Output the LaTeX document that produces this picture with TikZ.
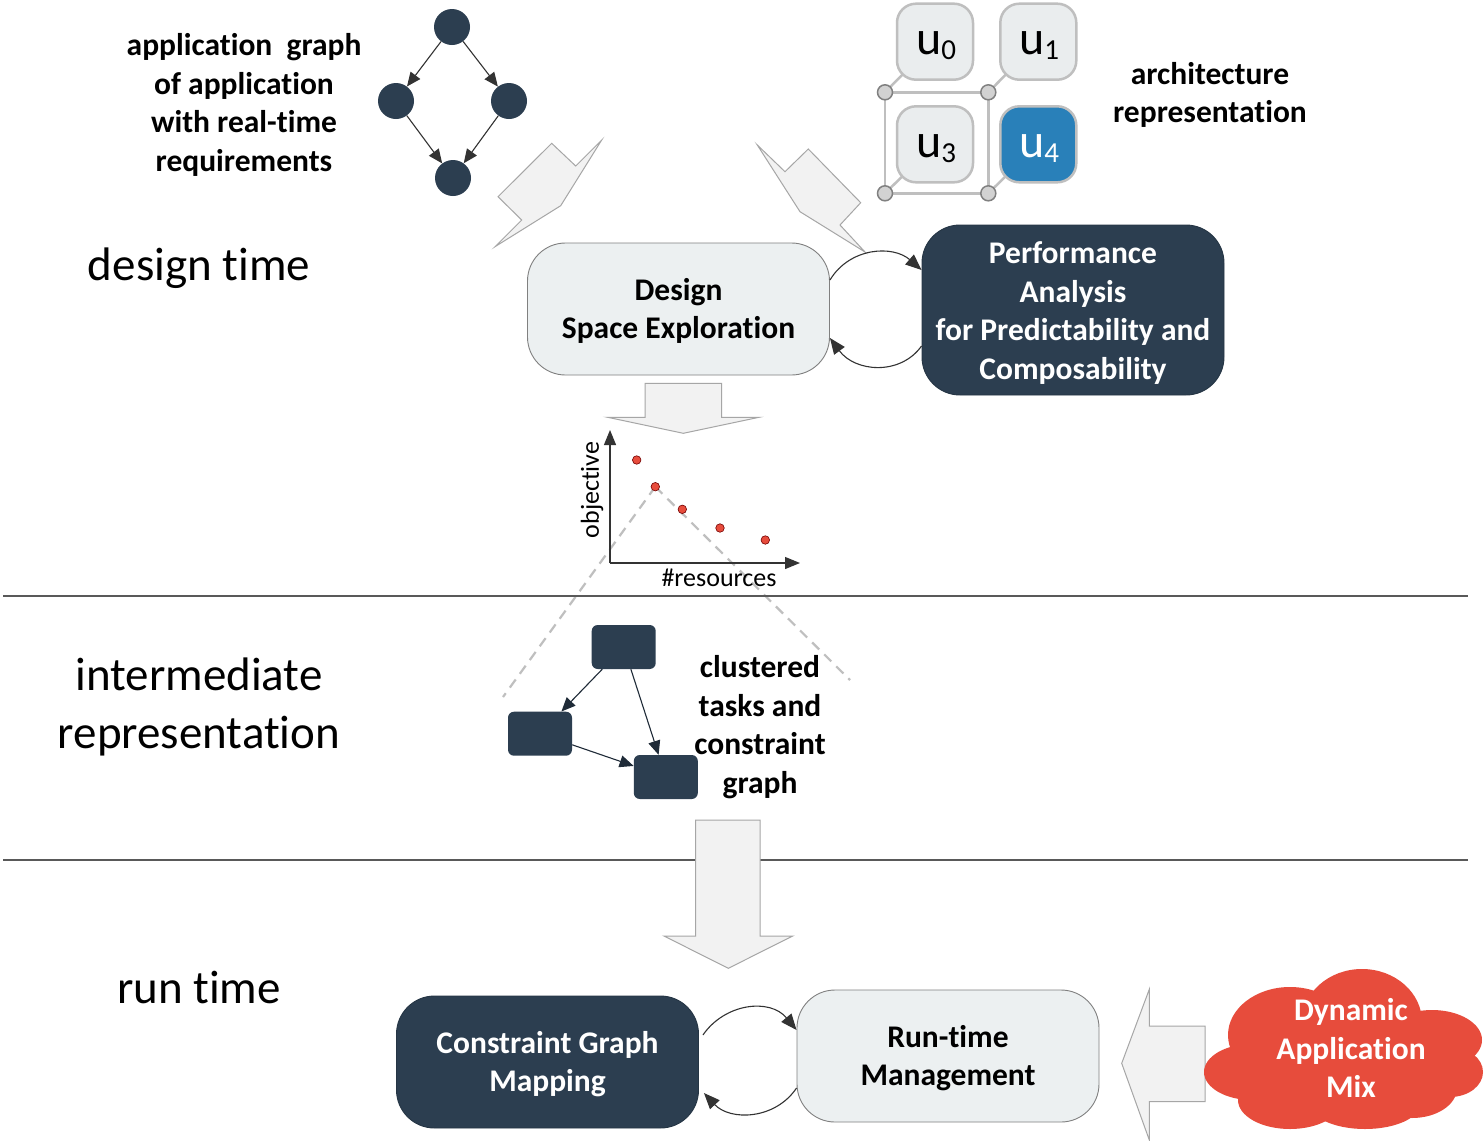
\documentclass[tikz,border=0pt]{standalone}
\usepackage{fontspec}
\setmainfont{Carlito}[Ligatures=NoCommon]
\usetikzlibrary{arrows.meta,calc,backgrounds}

\definecolor{navy}{HTML}{2C3E50}
\definecolor{pale}{HTML}{ECF0F1}
\definecolor{archfill}{HTML}{EAEDEE}
\definecolor{blockfill}{HTML}{F2F2F2}
\definecolor{blockline}{HTML}{A6A6A6}
\definecolor{ublue}{HTML}{2980B9}
\definecolor{dotred}{HTML}{E74C3C}
\definecolor{rulegray}{HTML}{595959}
\definecolor{archline}{HTML}{BFBFBF}
\definecolor{edgegray}{HTML}{333333}

\begin{document}
\begin{tikzpicture}[x=1pt,y=-1pt,
  lbl/.style={font=\bfseries\fontsize{31.5}{38.5}\selectfont, align=center, inner sep=0},
  phase/.style={font=\fontsize{47}{57.5}\selectfont, align=center, inner sep=0},
  axislbl/.style={font=\fontsize{26}{30}\selectfont, inner sep=0},
  lightbox/.style={draw=gray, line width=0.9, fill=pale, rounded corners=38,
    minimum width=302, minimum height=132, inner sep=0},
  darkbox/.style={draw=navy!85!black, line width=0.9, fill=navy, text=white, rounded corners=38,
    minimum width=302, minimum height=132, inner sep=0},
  task/.style={circle, fill=navy, minimum size=36, inner sep=0},
  taskedge/.style={draw=edgegray, line width=1.1, -{Triangle[length=14,width=12]}},
  cluster/.style={fill=navy, rounded corners=6, minimum width=64, minimum height=44, inner sep=0},
  clusteredge/.style={draw=navy!70!black, line width=1.1, -{Triangle[length=14,width=12]}},
  unit/.style={draw=archline, line width=2.5, fill=archfill, rounded corners=19,
    minimum width=76, minimum height=76, inner sep=0},
  router/.style={circle, draw=gray, line width=1.5, fill=gray!35, minimum size=15, inner sep=0},
  archlink/.style={draw=archline, line width=2.5},
  blockarrow/.style={draw=blockline, line width=1, fill=blockfill},
  loopedge/.style={draw=edgegray, line width=1.1, -{Triangle[length=16,width=13]}},
  pareto/.style={circle, draw=red!45!black, line width=0.6, fill=dotred, minimum size=8.5, inner sep=0},
  axis/.style={draw=edgegray, line width=1.2, -{Triangle[length=15,width=12]}},
  zoomline/.style={draw=archline, line width=2.2, dash pattern=on 10pt off 7pt},
  phaserule/.style={draw=rulegray, line width=1.2},
  ulbl/.style={inner sep=0}
]
\useasboundingbox (0,0) rectangle (1484,1141);
\begin{scope}[on background layer]
  \fill[white] (0,0) rectangle (1484,1141);
\end{scope}

% phase separators
\draw[phaserule] (3,596) -- (1468,596);
\draw[phaserule] (3,860) -- (1468,860);

% phase names
\node[phase] (tdesign) at (199,268) {design time};
\node[phase] (tinter) at (199,707) {intermediate\\representation};
\node[phase] (trun) at (199,987) {run time};

% application graph
\node[lbl] (tapp) at (244,105) {application~ graph\\of application\\with real-time\\requirements};
\node[task] (a0) at (452,27) {};
\node[task] (a1) at (396,101) {};
\node[task] (a2) at (509,101) {};
\node[task] (a3) at (453,178) {};
\draw[taskedge] (a0) -- (a1);
\draw[taskedge] (a0) -- (a2);
\draw[taskedge] (a1) -- (a3);
\draw[taskedge] (a2) -- (a3);

% architecture
\node[unit] (u0) at (935,41.7) {};
\node[unit] (u1) at (1038.3,41.7) {};
\node[unit] (u3) at (935,144.3) {};
\node[unit, fill=ublue] (u4) at (1038.3,144.3) {};
\node[ulbl] (l0) at (936,46) {{\fontsize{48}{48}\selectfont u}\raisebox{-5pt}{\fontsize{29}{29}\selectfont 0}};
\node[ulbl] (l1) at (1039,46) {{\fontsize{48}{48}\selectfont u}\raisebox{-5pt}{\fontsize{29}{29}\selectfont 1}};
\node[ulbl] (l3) at (936,149) {{\fontsize{48}{48}\selectfont u}\raisebox{-5pt}{\fontsize{29}{29}\selectfont 3}};
\node[ulbl, text=white] (l4) at (1039,149) {{\fontsize{48}{48}\selectfont u}\raisebox{-5pt}{\fontsize{29}{29}\selectfont 4}};
\node[router] (r0) at (885,92.3) {};
\node[router] (r1) at (988.3,92.3) {};
\node[router] (r3) at (885,193.3) {};
\node[router] (r4) at (988.3,193.3) {};
\begin{scope}[on background layer]
  \draw[archlink] (r0.center) -- (r1.center) -- (r4.center) -- (r3.center) -- cycle;
  \draw[archlink] (r0.center) -- (u0.center);
  \draw[archlink] (r1.center) -- (u1.center);
  \draw[archlink] (r3.center) -- (u3.center);
  \draw[archlink] (r4.center) -- (u4.center);
\end{scope}
\node[lbl] (tarch) at (1210,95) {architecture\\representation};

% inputs to the exploration
\draw[blockarrow] (551.7,143.3) -- (575.7,166) -- (601.7,140) -- (560.7,205.7)
  -- (495,246.7) -- (521.7,220) -- (498,196.7) -- cycle;
\draw[blockarrow] (757.3,145) -- (785,171.7) -- (808.3,149) -- (860.7,202.7)
  -- (840,225) -- (865,252) -- (800,211.7) -- cycle;

% design space exploration loop
\node[lightbox] (dse) at (678.5,309) {};
\node[lbl] (tdse) at (678.5,311) {Design\\Space Exploration};
\node[darkbox, minimum height=170] (pa) at (1073,310) {};
\node[lbl, text=white] (tpa) at (1073,313) {Performance\\Analysis\\for Predictability and\\Composability};
\draw[loopedge] ([yshift=29pt]dse.east) .. controls (850,247) and (893,245) .. ([yshift=40pt]pa.west);
\draw[loopedge] ([yshift=-36pt]pa.west) .. controls (900,376) and (855,372) .. ([yshift=-29pt]dse.east);

% pareto result
\draw[blockarrow] (645,383.3) -- (721.7,383.3) -- (721.7,417.3) -- (759,417.3)
  -- (683.3,433.3) -- (607.7,417.3) -- (645,417.3) -- cycle;
\coordinate (origin) at (610,563);
\coordinate (ytip) at (610,430);
\coordinate (xtip) at (800,563);
\draw[axis] (origin) -- (ytip);
\draw[axis] (origin) -- (xtip);
\node[axislbl, rotate=90] (tobj) at (592,490) {objective};
\node[axislbl] (tres) at (719,578) {\#resources};
\node[pareto] (p1) at (636.7,460) {};
\node[pareto] (p2) at (655.3,486.7) {};
\node[pareto] (p3) at (682.3,509.3) {};
\node[pareto] (p4) at (720,528) {};
\node[pareto] (p5) at (765.3,540) {};
\coordinate (zl) at (503,697);
\coordinate (zr) at (850,680);
\begin{scope}[on background layer]
  \draw[zoomline] (p2.center) -- (zl);
  \draw[zoomline] (p2.center) -- (zr);
\end{scope}

% clustered constraint graph
\node[cluster] (ca) at (623.7,647) {};
\node[cluster] (cb) at (540,733.7) {};
\node[cluster] (cc) at (665.8,777) {};
\draw[clusteredge] (ca) -- (cb);
\draw[clusteredge] (ca) -- (cc);
\draw[clusteredge] (cb) -- (cc);
\node[lbl] (tclu) at (760,727) {clustered\\tasks and\\constraint\\graph};

% to run time
\draw[blockarrow] (695.7,820) -- (760,820) -- (760,936) -- (792.7,936)
  -- (728.3,968.3) -- (664,936) -- (695.7,936) -- cycle;

% run-time loop
\node[darkbox] (cgm) at (547.5,1062) {};
\node[lbl, text=white] (tcgm) at (547.5,1064) {Constraint Graph\\Mapping};
\node[lightbox] (rtm) at (948,1056) {};
\node[lbl] (trtm) at (948,1058) {Run-time\\Management};
\draw[loopedge] ([xshift=4pt,yshift=27pt]cgm.east) .. controls (725,1003) and (770,998) .. ([yshift=26pt]rtm.west);
\draw[loopedge] ([yshift=-32pt]rtm.west) .. controls (775,1120) and (730,1121) .. ([xshift=5pt,yshift=-31pt]cgm.east);

% application mix
\draw[blockarrow] (1205,1026) -- (1149.3,1026) -- (1149.3,989.3) -- (1121.7,1063.3)
  -- (1149.3,1140) -- (1149.3,1101.7) -- (1205,1101.7) -- cycle;
\begin{scope}
  \fill[dotred] (1290,1035) ellipse [x radius=62, y radius=48];
  \fill[dotred] (1362,1022) ellipse [x radius=60, y radius=53];
  \fill[dotred] (1432,1040) ellipse [x radius=50, y radius=30];
  \fill[dotred] (1450,1072) ellipse [x radius=33, y radius=25];
  \fill[dotred] (1252,1072) ellipse [x radius=48, y radius=28];
  \fill[dotred] (1290,1100) ellipse [x radius=52, y radius=29];
  \fill[dotred] (1365,1104) ellipse [x radius=55, y radius=25];
  \fill[dotred] (1412,1088) ellipse [x radius=45, y radius=30];
  \fill[dotred] (1345,1062) ellipse [x radius=115, y radius=55];
\end{scope}
\node[lbl, text=white] (tmix) at (1351,1048) {Dynamic\\Application\\Mix};
\end{tikzpicture}
\end{document}
